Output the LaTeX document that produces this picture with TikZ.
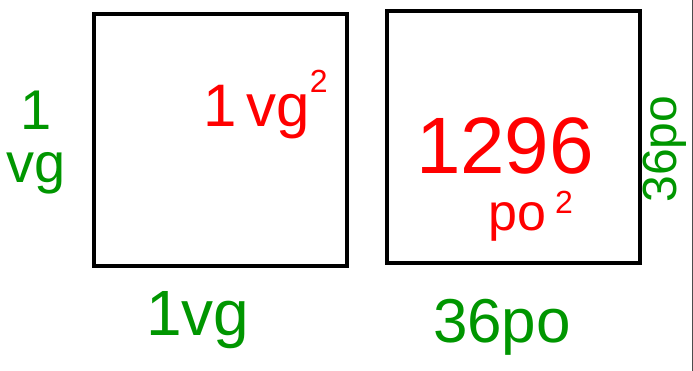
\documentclass[tikz,border=0pt]{standalone}
\usepackage{fontspec}
\setmainfont{Liberation Sans}
\usepackage{tikz}
\usetikzlibrary{positioning}
\definecolor{penred}{HTML}{FF0000}
\definecolor{pengreen}{HTML}{009600}
\newcommand{\bigsq}[2]{\hspace{#1}\raisebox{#2}{\fontsize{32}{32}\selectfont 2}}
\tikzset{
  sqbox/.style={draw, line width=4pt, minimum width=253pt, minimum height=252pt, inner sep=0pt, outer sep=0pt},
  sidelabel/.style={text=pengreen, inner sep=0pt},
  arealabel/.style={text=penred, inner sep=0pt}
}

\begin{document}
\begin{tikzpicture}[x=1pt, y=-1pt]
  \useasboundingbox (0,0) rectangle (693,371);

  \node[sqbox] (sqvg) at (220.5,140) {};
  \node[sqbox] (sqpo) at (513.5,137.5) {};

  \node[sidelabel, align=center, font=\fontsize{56}{53}\selectfont, anchor=base] (vgleft) at (36,183) {1\\vg};
  \node[sidelabel, font=\fontsize{64}{64}\selectfont, anchor=base] (vgbottom) at (198,335) {1vg};
  \node[arealabel, font=\fontsize{60}{60}\selectfont, anchor=base west] (vgarea) at (203,127) {1\,vg\bigsq{0pt}{34pt}};

  \node[arealabel, font=\fontsize{80}{80}\selectfont, anchor=base] (poarea) at (505,174) {1296};
  \node[arealabel, font=\fontsize{52}{52}\selectfont, anchor=base west] (pounit) at (488,231) {po\bigsq{9pt}{17pt}};
  \node[sidelabel, font=\fontsize{62}{62}\selectfont, anchor=base] (pobottom) at (502,342) {36po};
  \node[sidelabel, font=\fontsize{48}{48}\selectfont, rotate=90] (poright) at (665,149) {36po};

  \draw[black!70, line width=1.2pt] (692.4,0) -- (692.4,371);
\end{tikzpicture}
\end{document}
